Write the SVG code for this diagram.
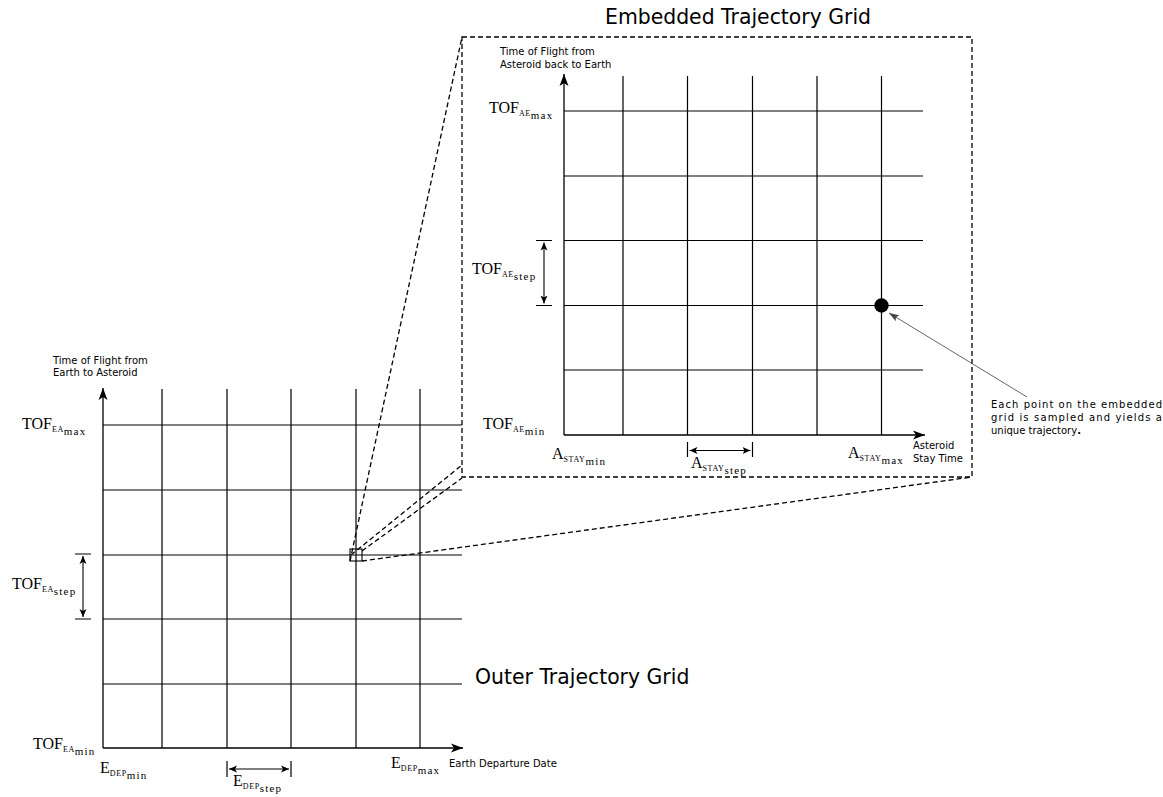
<svg xmlns="http://www.w3.org/2000/svg" width="1163" height="797" viewBox="0 0 1163 797">
<style>
.g{stroke:#000;stroke-width:1.2;fill:none}
.ax{stroke:#000;stroke-width:1.3;fill:none;marker-end:url(#ah)}
.br{stroke:#000;stroke-width:1.1;fill:none;marker-start:url(#sh);marker-end:url(#sh)}
.dash{stroke:#000;stroke-width:1.3;fill:none;stroke-dasharray:5,3}
.m{font-family:"Liberation Serif","Times New Roman",serif;font-size:16px;fill:#000}
.s1{font-size:8px;letter-spacing:0.6px}
.s2{font-size:11px;letter-spacing:1.2px}
.t{font-family:"DejaVu Sans",sans-serif;font-size:10px;fill:#000}
.h{font-family:"DejaVu Sans",sans-serif;font-size:20.4px;fill:#000}
</style>
<defs>
<marker id="ah" markerUnits="userSpaceOnUse" markerWidth="14" markerHeight="10" refX="12" refY="5" orient="auto">
<path d="M0,0.5 L12,5 L0,9.5 L3,5 Z" fill="#000"/>
</marker>
<marker id="sh" markerUnits="userSpaceOnUse" markerWidth="10" markerHeight="8" refX="8" refY="4" orient="auto-start-reverse">
<path d="M0,0.5 L8,4 L0,7.5 L2,4 Z" fill="#000"/>
</marker>
<marker id="gh" markerUnits="userSpaceOnUse" markerWidth="12" markerHeight="8" refX="10" refY="4" orient="auto">
<path d="M0,0.5 L10,4 L0,7.5 L2,4 Z" fill="#444"/>
</marker>
</defs>
<rect width="1163" height="797" fill="#fff"/>

<g id="outer-grid">
<path class="g" d="M103,425H462 M103,490H462 M103,555H462 M103,619H462 M103,684H462"/>
<path class="g" d="M162,389V748 M227,389V748 M291,389V748 M356,389V748 M420,389V748"/>
<path class="ax" d="M103,748V388"/>
<path class="ax" d="M103,748H463"/>
<rect x="350" y="549" width="12" height="12" fill="none" stroke="#000" stroke-width="1.1"/>
</g>

<g id="outer-labels">
<text class="t" x="53" y="364">Time of Flight from</text>
<text class="t" x="53" y="376">Earth to Asteroid</text>
<text class="m" x="22" y="429">TOF<tspan class="s1" dy="3">EA</tspan><tspan class="s2" dy="3">max</tspan></text>
<text class="m" x="12" y="589">TOF<tspan class="s1" dy="3">EA</tspan><tspan class="s2" dy="3">step</tspan></text>
<text class="m" x="33" y="749">TOF<tspan class="s1" dy="3">EA</tspan><tspan class="s2" dy="3">min</tspan></text>
<text class="m" x="100" y="773">E<tspan class="s1" dy="3">DEP</tspan><tspan class="s2" dy="3">min</tspan></text>
<text class="m" x="233" y="786">E<tspan class="s1" dy="3">DEP</tspan><tspan class="s2" dy="3">step</tspan></text>
<text class="m" x="391" y="768">E<tspan class="s1" dy="3">DEP</tspan><tspan class="s2" dy="3">max</tspan></text>
<text class="t" x="449" y="767">Earth Departure Date</text>
<text class="h" x="475" y="684">Outer Trajectory Grid</text>
</g>

<g id="outer-steps">
<path class="g" d="M75,554H91 M75,619H91 M227,761V777 M291,761V777"/>
<path class="br" d="M83,556V617"/>
<path class="br" d="M229,769H289"/>
</g>

<g id="inset-box">
<rect class="dash" x="462" y="37" width="510" height="440"/>
<text class="h" x="605" y="24">Embedded Trajectory Grid</text>
</g>

<g id="inset-grid">
<path class="g" d="M564,111H923 M564,176H923 M564,240.5H923 M564,305.5H923 M564,370H923"/>
<path class="g" d="M623,76V435 M687.5,76V435 M752.5,76V435 M817,76V435 M881.5,76V435"/>
<path class="ax" d="M564,435V74"/>
<path class="ax" d="M564,435H925"/>
<circle id="sample-point" cx="881.5" cy="305.5" r="7.2" fill="#000"/>
</g>

<g id="inset-labels">
<text class="t" x="500" y="55">Time of Flight from</text>
<text class="t" x="500" y="68">Asteroid back to Earth</text>
<text class="m" x="489" y="113">TOF<tspan class="s1" dy="3">AE</tspan><tspan class="s2" dy="3">max</tspan></text>
<text class="m" x="472" y="274">TOF<tspan class="s1" dy="3">AE</tspan><tspan class="s2" dy="3">step</tspan></text>
<text class="m" x="483" y="429">TOF<tspan class="s1" dy="3">AE</tspan><tspan class="s2" dy="3">min</tspan></text>
<text class="m" x="552" y="459">A<tspan class="s1" dy="3">STAY</tspan><tspan class="s2" dy="3">min</tspan></text>
<text class="m" x="691" y="468">A<tspan class="s1" dy="3">STAY</tspan><tspan class="s2" dy="3">step</tspan></text>
<text class="m" x="848" y="458">A<tspan class="s1" dy="3">STAY</tspan><tspan class="s2" dy="3">max</tspan></text>
<text class="t" x="913" y="449">Asteroid</text>
<text class="t" x="913" y="462">Stay Time</text>
</g>

<g id="inset-steps">
<path class="g" d="M536,240.5H552 M536,305.5H552 M687.5,442V457 M752.5,442V457"/>
<path class="br" d="M544,242.5V303.5"/>
<path class="br" d="M689.5,450.5H750.5"/>
</g>

<g id="annotation">
<text class="t" x="991" y="408" textLength="171" lengthAdjust="spacing">Each point on the embedded</text>
<text class="t" x="991" y="421" textLength="171" lengthAdjust="spacing">grid is sampled and yields a</text>
<text class="t" x="991" y="434">unique trajectory<tspan font-weight="bold">.</tspan></text>
</g>

<g id="connectors">
<path class="dash" d="M350,561L462,37"/>
<path class="dash" d="M351,555L462,465"/>
<path class="dash" d="M362,551L462,478"/>
<path class="dash" d="M362,561L972,477"/>
<path d="M1027,397L889,313" stroke="#555" stroke-width="0.9" fill="none" marker-end="url(#gh)"/>
</g>
</svg>
